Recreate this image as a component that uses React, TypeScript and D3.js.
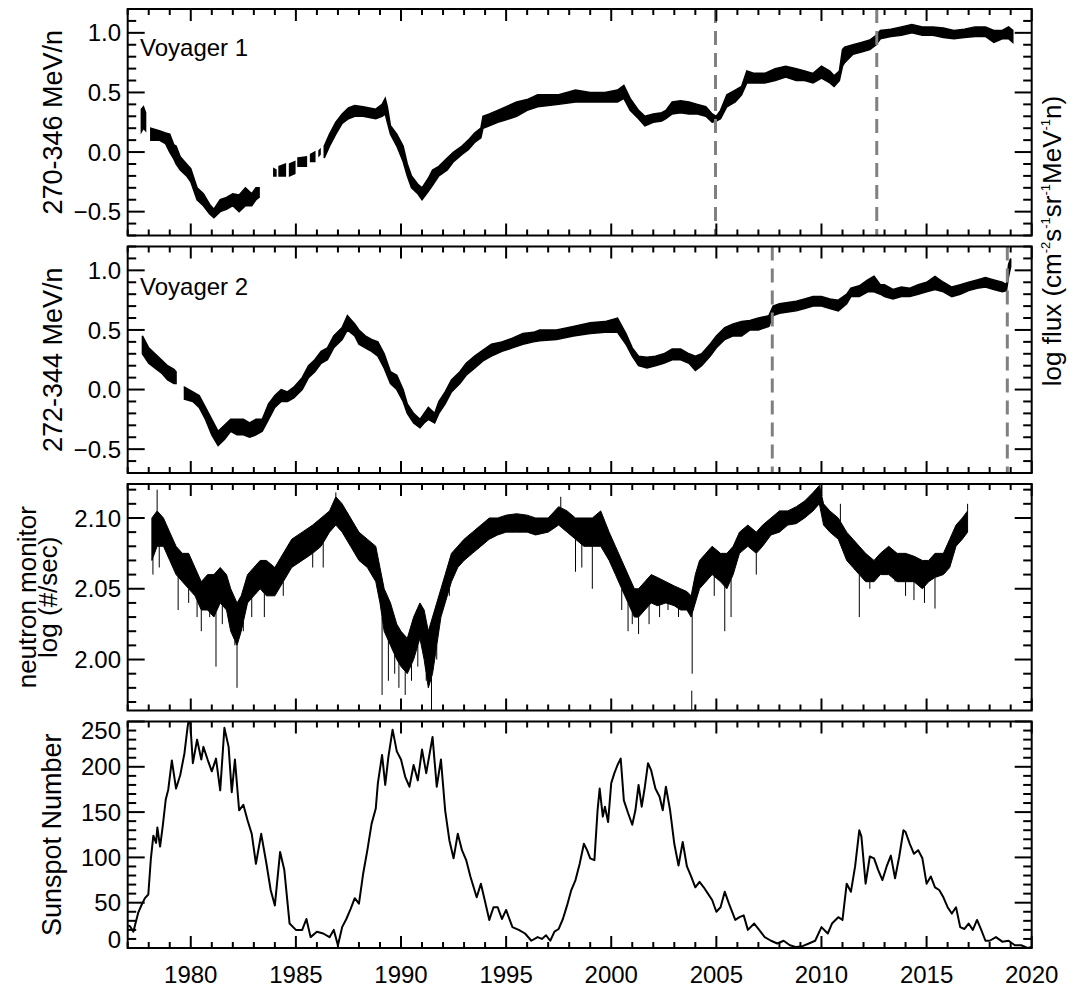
import * as d3 from "d3";

type Row = [number, number, number] | null;

// Voyager 1, 270-346 MeV/n: [year, low, high] of the plotted band (null = data gap)
const V1_BAND: Row[] = [
  [1977.65, 0.17, 0.36], [1977.75, 0.2, 0.38], [1977.85, 0.18, 0.33], null,
  [1978.1, 0.1, 0.2], [1978.5, 0.1, 0.18], [1978.8, 0.07, 0.16], [1979.0, 0.0, 0.15],
  [1979.2, -0.06, 0.06], [1979.3, -0.1, 0.05], [1979.5, -0.15, -0.04], [1979.8, -0.2, -0.1],
  [1980.0, -0.25, -0.14], [1980.3, -0.4, -0.3], [1980.6, -0.45, -0.35], [1980.9, -0.52, -0.44],
  [1981.1, -0.55, -0.48], [1981.4, -0.5, -0.4], [1981.7, -0.48, -0.38], [1982.0, -0.45, -0.35],
  [1982.3, -0.5, -0.36], [1982.6, -0.45, -0.3], [1982.9, -0.45, -0.35], [1983.1, -0.4, -0.3],
  [1983.25, -0.38, -0.3], null,
  [1983.95, -0.2, -0.14], [1984.05, -0.2, -0.15], null,
  [1984.2, -0.2, -0.12], [1984.5, -0.2, -0.1], null,
  [1984.7, -0.2, -0.1], [1984.95, -0.18, -0.08], null,
  [1985.1, -0.12, -0.05], [1985.5, -0.12, -0.04], null,
  [1985.7, -0.08, -0.02], [1985.9, -0.08, 0.0], null,
  [1986.1, -0.03, 0.01], [1986.15, -0.02, 0.02], null,
  [1986.35, -0.05, 0.05], [1986.6, 0.05, 0.15], [1986.9, 0.15, 0.25], [1987.2, 0.24, 0.32],
  [1987.5, 0.28, 0.37], [1987.8, 0.3, 0.39], [1988.2, 0.3, 0.38], [1988.5, 0.29, 0.37],
  [1988.8, 0.28, 0.36], [1989.1, 0.3, 0.4], [1989.25, 0.32, 0.45], [1989.35, 0.25, 0.38],
  [1989.5, 0.15, 0.22], [1989.8, 0.05, 0.15], [1990.1, -0.08, 0.05], [1990.3, -0.2, -0.1],
  [1990.5, -0.3, -0.2], [1990.8, -0.35, -0.27], [1991.0, -0.4, -0.3], [1991.3, -0.33, -0.22],
  [1991.5, -0.28, -0.15], [1991.8, -0.2, -0.12], [1992.2, -0.15, -0.05], [1992.5, -0.08, 0.0],
  [1992.9, -0.02, 0.05], [1993.2, 0.02, 0.1], [1993.5, 0.08, 0.16], [1993.8, 0.12, 0.2],
  [1993.9, 0.2, 0.3], [1994.2, 0.22, 0.32], [1994.6, 0.25, 0.35], [1995.0, 0.27, 0.38],
  [1995.5, 0.3, 0.42], [1996.0, 0.35, 0.44], [1996.5, 0.38, 0.48], [1997.5, 0.4, 0.48],
  [1998.3, 0.42, 0.52], [1999.0, 0.42, 0.5], [1999.7, 0.42, 0.5], [2000.3, 0.42, 0.52],
  [2000.6, 0.45, 0.56], [2000.9, 0.35, 0.45], [2001.3, 0.28, 0.35], [2001.6, 0.22, 0.3],
  [2002.0, 0.25, 0.32], [2002.4, 0.26, 0.33], [2002.6, 0.28, 0.35], [2002.9, 0.32, 0.42],
  [2003.3, 0.33, 0.43], [2003.7, 0.32, 0.42], [2004.1, 0.32, 0.4], [2004.5, 0.3, 0.38],
  [2004.8, 0.25, 0.32], [2005.0, 0.26, 0.3], [2005.2, 0.28, 0.35], [2005.5, 0.38, 0.48],
  [2005.9, 0.42, 0.52], [2006.2, 0.48, 0.55], [2006.45, 0.58, 0.68], [2006.8, 0.58, 0.66],
  [2007.3, 0.58, 0.66], [2007.8, 0.6, 0.7], [2008.3, 0.63, 0.72], [2008.8, 0.6, 0.7],
  [2009.2, 0.6, 0.68], [2009.6, 0.58, 0.66], [2010.0, 0.62, 0.72], [2010.4, 0.58, 0.68],
  [2010.6, 0.55, 0.64], [2010.85, 0.6, 0.68], [2011.0, 0.72, 0.86], [2011.1, 0.75, 0.88],
  [2011.5, 0.82, 0.9], [2011.9, 0.84, 0.92], [2012.3, 0.86, 0.94], [2012.6, 0.9, 0.98],
  [2012.8, 0.95, 1.02], [2013.3, 0.97, 1.03], [2013.8, 0.98, 1.05], [2014.3, 1.0, 1.07],
  [2014.8, 0.98, 1.05], [2015.3, 0.98, 1.05], [2015.8, 0.96, 1.04], [2016.3, 0.95, 1.02],
  [2016.8, 0.96, 1.03], [2017.3, 0.97, 1.05], [2017.8, 0.97, 1.05], [2018.2, 0.92, 1.02],
  [2018.6, 0.95, 1.02], [2018.9, 0.95, 1.05], [2019.1, 0.92, 1.02],
];

// Voyager 2, 272-344 MeV/n
const V2_BAND: Row[] = [
  [1977.7, 0.3, 0.45], [1978.0, 0.22, 0.35], [1978.3, 0.18, 0.3], [1978.6, 0.14, 0.25],
  [1978.9, 0.08, 0.2], [1979.2, 0.05, 0.17], [1979.3, 0.05, 0.15], null,
  [1979.7, -0.08, 0.02], [1980.1, -0.1, -0.02], [1980.4, -0.15, -0.05], [1980.7, -0.25, -0.15],
  [1981.0, -0.38, -0.25], [1981.3, -0.47, -0.35], [1981.6, -0.42, -0.3], [1981.9, -0.35, -0.25],
  [1982.2, -0.38, -0.25], [1982.5, -0.38, -0.25], [1982.8, -0.4, -0.28], [1983.1, -0.38, -0.25],
  [1983.4, -0.35, -0.25], [1983.7, -0.25, -0.12], [1984.0, -0.15, -0.05], [1984.3, -0.1, 0.0],
  [1984.6, -0.1, -0.02], [1984.9, -0.07, 0.02], [1985.3, 0.0, 0.1], [1985.6, 0.1, 0.2],
  [1985.9, 0.15, 0.25], [1986.2, 0.22, 0.32], [1986.5, 0.25, 0.35], [1986.8, 0.35, 0.45],
  [1987.2, 0.42, 0.52], [1987.45, 0.5, 0.62], [1987.8, 0.45, 0.55], [1988.0, 0.38, 0.5],
  [1988.3, 0.35, 0.45], [1988.6, 0.32, 0.42], [1988.9, 0.28, 0.4], [1989.2, 0.18, 0.3],
  [1989.5, 0.05, 0.15], [1989.8, 0.0, 0.12], [1990.1, -0.1, 0.0], [1990.3, -0.2, -0.12],
  [1990.6, -0.28, -0.2], [1990.9, -0.32, -0.25], [1991.1, -0.28, -0.2], [1991.3, -0.25, -0.15],
  [1991.6, -0.28, -0.2], [1991.8, -0.2, -0.1], [1992.1, -0.12, -0.02], [1992.4, -0.02, 0.08],
  [1992.8, 0.05, 0.15], [1993.1, 0.12, 0.22], [1993.5, 0.18, 0.28], [1993.9, 0.24, 0.33],
  [1994.3, 0.28, 0.38], [1994.8, 0.32, 0.4], [1995.3, 0.35, 0.43], [1995.8, 0.38, 0.47],
  [1996.3, 0.4, 0.48], [1996.6, 0.41, 0.5], [1997.4, 0.42, 0.5], [1998.2, 0.45, 0.53],
  [1999.0, 0.47, 0.56], [1999.7, 0.48, 0.57], [2000.3, 0.48, 0.6], [2000.7, 0.38, 0.47],
  [2001.0, 0.28, 0.35], [2001.3, 0.2, 0.28], [2001.7, 0.18, 0.27], [2002.1, 0.2, 0.28],
  [2002.5, 0.22, 0.3], [2002.9, 0.25, 0.34], [2003.3, 0.25, 0.34], [2003.7, 0.22, 0.3],
  [2004.0, 0.16, 0.28], [2004.3, 0.2, 0.3], [2004.7, 0.28, 0.38], [2005.0, 0.35, 0.45],
  [2005.4, 0.42, 0.52], [2005.8, 0.45, 0.55], [2006.2, 0.45, 0.57], [2006.6, 0.5, 0.58],
  [2007.0, 0.5, 0.6], [2007.5, 0.53, 0.62], [2007.7, 0.62, 0.7], [2008.0, 0.64, 0.72],
  [2008.4, 0.65, 0.73], [2008.8, 0.66, 0.74], [2009.2, 0.68, 0.76], [2009.6, 0.7, 0.78],
  [2010.0, 0.7, 0.78], [2010.4, 0.68, 0.76], [2010.8, 0.66, 0.75], [2011.2, 0.72, 0.8],
  [2011.4, 0.78, 0.85], [2011.8, 0.78, 0.87], [2012.2, 0.82, 0.92], [2012.5, 0.82, 0.95],
  [2012.8, 0.8, 0.88], [2013.0, 0.78, 0.88], [2013.4, 0.76, 0.84], [2013.8, 0.78, 0.86],
  [2014.2, 0.78, 0.85], [2014.6, 0.8, 0.88], [2015.0, 0.82, 0.9], [2015.4, 0.84, 0.95],
  [2015.8, 0.82, 0.9], [2016.2, 0.78, 0.86], [2016.6, 0.8, 0.88], [2017.0, 0.83, 0.9],
  [2017.4, 0.85, 0.92], [2017.8, 0.86, 0.94], [2018.2, 0.84, 0.92], [2018.6, 0.82, 0.9],
  [2018.8, 0.83, 0.88], [2018.9, 0.95, 1.05], [2019.0, 1.03, 1.1],
];

// neutron monitor log count rate: dense band
const NM_BAND: Row[] = [
  [1978.15, 2.07, 2.1], [1978.4, 2.08, 2.105], [1978.7, 2.08, 2.1], [1979.0, 2.07, 2.09],
  [1979.3, 2.06, 2.08], [1979.6, 2.055, 2.075], [1979.9, 2.05, 2.075], [1980.2, 2.045, 2.065],
  [1980.5, 2.035, 2.055], [1980.8, 2.035, 2.06], [1981.1, 2.03, 2.06], [1981.4, 2.04, 2.065],
  [1981.7, 2.035, 2.06], [1981.9, 2.02, 2.05], [1982.2, 2.01, 2.04], [1982.4, 2.02, 2.045],
  [1982.7, 2.04, 2.06], [1983.0, 2.045, 2.065], [1983.3, 2.05, 2.07], [1983.6, 2.045, 2.07],
  [1984.0, 2.045, 2.065], [1984.4, 2.055, 2.075], [1984.8, 2.065, 2.085], [1985.3, 2.07, 2.09],
  [1985.8, 2.075, 2.095], [1986.2, 2.08, 2.1], [1986.6, 2.09, 2.105], [1986.9, 2.095, 2.115],
  [1987.2, 2.09, 2.11], [1987.6, 2.08, 2.1], [1988.0, 2.07, 2.09], [1988.4, 2.065, 2.085],
  [1988.8, 2.055, 2.08], [1989.0, 2.04, 2.065], [1989.2, 2.02, 2.05], [1989.5, 2.01, 2.04],
  [1989.8, 2.0, 2.025], [1990.0, 1.995, 2.02], [1990.3, 1.99, 2.015], [1990.6, 2.0, 2.03],
  [1990.9, 2.015, 2.04], [1991.1, 2.0, 2.035], [1991.3, 1.98, 2.02], [1991.5, 1.99, 2.03],
  [1991.7, 2.01, 2.04], [1991.9, 2.03, 2.05], [1992.1, 2.04, 2.06], [1992.4, 2.055, 2.075],
  [1992.7, 2.065, 2.08], [1993.0, 2.07, 2.085], [1993.4, 2.075, 2.09], [1993.8, 2.08, 2.095],
  [1994.2, 2.085, 2.1], [1994.6, 2.088, 2.1], [1995.0, 2.09, 2.102], [1995.5, 2.09, 2.103],
  [1996.0, 2.09, 2.102], [1996.4, 2.088, 2.1], [1997.0, 2.09, 2.1], [1997.5, 2.095, 2.108],
  [1997.9, 2.09, 2.105], [1998.3, 2.085, 2.1], [1998.7, 2.08, 2.1], [1999.1, 2.08, 2.1],
  [1999.5, 2.08, 2.105], [1999.9, 2.07, 2.09], [2000.2, 2.06, 2.08], [2000.5, 2.05, 2.07],
  [2000.8, 2.04, 2.06], [2001.1, 2.03, 2.05], [2001.3, 2.03, 2.05], [2001.6, 2.035, 2.055],
  [2001.9, 2.04, 2.06], [2002.2, 2.038, 2.058], [2002.6, 2.04, 2.055], [2003.0, 2.038, 2.052],
  [2003.3, 2.035, 2.05], [2003.6, 2.035, 2.048], [2003.8, 2.03, 2.045], [2004.0, 2.04, 2.06],
  [2004.2, 2.05, 2.07], [2004.5, 2.055, 2.075], [2004.8, 2.06, 2.08], [2005.2, 2.055, 2.075],
  [2005.5, 2.05, 2.075], [2005.8, 2.06, 2.08], [2006.1, 2.075, 2.09], [2006.5, 2.08, 2.095],
  [2006.9, 2.075, 2.09], [2007.2, 2.08, 2.095], [2007.6, 2.088, 2.1], [2008.0, 2.09, 2.105],
  [2008.4, 2.095, 2.105], [2008.8, 2.096, 2.108], [2009.2, 2.1, 2.112], [2009.6, 2.105, 2.118],
  [2009.9, 2.11, 2.123], [2010.1, 2.095, 2.11], [2010.4, 2.09, 2.105], [2010.8, 2.085, 2.1],
  [2011.2, 2.07, 2.09], [2011.5, 2.065, 2.085], [2011.8, 2.06, 2.08], [2012.1, 2.055, 2.075],
  [2012.5, 2.055, 2.07], [2012.8, 2.06, 2.075], [2013.2, 2.06, 2.08], [2013.6, 2.055, 2.075],
  [2014.0, 2.055, 2.075], [2014.4, 2.055, 2.073], [2014.8, 2.05, 2.07], [2015.1, 2.055, 2.07],
  [2015.4, 2.058, 2.075], [2015.8, 2.06, 2.075], [2016.1, 2.065, 2.085], [2016.4, 2.08, 2.095],
  [2016.7, 2.085, 2.1], [2016.95, 2.09, 2.105],
];

// Forbush decreases and other single-day dips: [year, lowest value]
const NM_DIPS: [number, number][] = [
  [1978.2, 2.06], [1978.5, 2.065], [1979.4, 2.035], [1979.9, 2.04], [1980.3, 2.03], [1980.5, 2.02],
  [1980.9, 2.03], [1981.2, 1.995], [1981.5, 2.025], [1981.8, 2.03], [1982.1, 2.01], [1982.2, 1.98],
  [1982.5, 2.02], [1982.9, 2.03], [1983.5, 2.03], [1984.4, 2.045], [1985.8, 2.065], [1986.3, 2.065],
  [1989.1, 1.975], [1989.4, 1.985], [1989.7, 1.99], [1989.9, 1.98], [1990.2, 1.975], [1990.5, 1.985],
  [1990.8, 1.995], [1991.2, 1.985], [1991.45, 1.96], [1991.7, 2.0], [1992.3, 2.045], [1998.3, 2.062],
  [1998.6, 2.065], [1999.1, 2.05], [2000.5, 2.035], [2000.8, 2.02], [2001.0, 2.025], [2001.3, 2.018],
  [2001.8, 2.025], [2002.3, 2.03], [2002.7, 2.035], [2003.2, 2.03], [2003.85, 1.99], [2004.5, 2.06],
  [2004.9, 2.045], [2005.4, 2.02], [2005.7, 2.03], [2006.9, 2.06], [2011.6, 2.065], [2011.8, 2.03],
  [2012.3, 2.05], [2013.5, 2.055], [2014.0, 2.045], [2014.4, 2.042], [2014.9, 2.04], [2015.4, 2.036],
];

// short upward excursions: [year, highest value]
const NM_PEAKS: [number, number][] = [
  [1978.4, 2.12], [1986.9, 2.118], [1997.6, 2.115], [2010.9, 2.11], [2016.95, 2.11],
];

// isolated low segment (Oct 2003): [year, low, high]
const NM_ISOLATED: [number, number, number][] = [[2003.83, 1.96, 1.978]];

// monthly-smoothed sunspot number: [year, value]
const SUNSPOT: [number, number][] = [
  [1977.03, 25], [1977.11, 24], [1977.27, 18], [1977.5, 39], [1977.67, 48], [1977.82, 55],
  [1977.98, 59], [1978.1, 98], [1978.22, 124], [1978.35, 116], [1978.41, 133], [1978.54, 112],
  [1978.67, 135], [1978.81, 164], [1978.93, 175], [1979.1, 207], [1979.3, 176], [1979.5, 191],
  [1979.7, 215], [1979.85, 244], [1979.95, 258], [1980.1, 204], [1980.3, 230], [1980.5, 208],
  [1980.6, 222], [1980.8, 208], [1981.0, 195], [1981.2, 209], [1981.4, 174], [1981.6, 243],
  [1981.8, 222], [1981.95, 172], [1982.1, 208], [1982.3, 152], [1982.5, 158], [1982.7, 141],
  [1982.9, 126], [1983.1, 93], [1983.35, 126], [1983.6, 93], [1983.8, 64], [1984.0, 47],
  [1984.25, 106], [1984.45, 86], [1984.7, 27], [1985.0, 20], [1985.3, 20], [1985.5, 32],
  [1985.7, 12], [1986.0, 18], [1986.3, 16], [1986.6, 12], [1986.8, 20], [1987.0, 3],
  [1987.2, 23], [1987.4, 32], [1987.6, 43], [1987.8, 55], [1988.0, 49], [1988.2, 82],
  [1988.4, 108], [1988.6, 137], [1988.8, 154], [1988.9, 182], [1989.1, 213], [1989.25, 180],
  [1989.4, 211], [1989.6, 241], [1989.8, 217], [1990.0, 208], [1990.2, 189], [1990.4, 178],
  [1990.6, 202], [1990.8, 185], [1991.0, 219], [1991.2, 193], [1991.5, 233], [1991.7, 178],
  [1991.9, 208], [1992.1, 152], [1992.3, 119], [1992.5, 99], [1992.7, 126], [1992.9, 108],
  [1993.1, 97], [1993.3, 79], [1993.6, 56], [1993.8, 71], [1994.0, 51], [1994.2, 31],
  [1994.4, 45], [1994.6, 45], [1994.8, 32], [1995.0, 42], [1995.3, 23], [1995.6, 20],
  [1995.9, 16], [1996.2, 8], [1996.5, 12], [1996.7, 10], [1996.9, 14], [1997.1, 8],
  [1997.3, 18], [1997.5, 21], [1997.7, 32], [1997.9, 47], [1998.1, 64], [1998.3, 75],
  [1998.5, 93], [1998.7, 115], [1998.85, 108], [1999.0, 99], [1999.2, 97], [1999.35, 152],
  [1999.45, 176], [1999.6, 145], [1999.7, 156], [1999.85, 139], [2000.0, 182], [2000.15, 193],
  [2000.3, 202], [2000.45, 209], [2000.6, 163], [2000.8, 149], [2001.0, 136], [2001.15, 152],
  [2001.3, 180], [2001.45, 156], [2001.6, 178], [2001.75, 204], [2001.9, 196], [2002.1, 176],
  [2002.3, 167], [2002.45, 152], [2002.6, 178], [2002.8, 152], [2003.0, 115], [2003.2, 91],
  [2003.4, 117], [2003.6, 90], [2003.8, 79], [2004.0, 67], [2004.2, 73], [2004.4, 67],
  [2004.6, 60], [2004.8, 53], [2005.0, 40], [2005.2, 45], [2005.4, 62], [2005.6, 49],
  [2005.9, 31], [2006.1, 34], [2006.3, 36], [2006.5, 20], [2006.8, 27], [2007.0, 21],
  [2007.3, 12], [2007.6, 8], [2007.9, 5], [2008.2, 8], [2008.5, 3], [2008.8, 1],
  [2009.1, 2], [2009.4, 5], [2009.7, 8], [2010.0, 23], [2010.3, 16], [2010.5, 27],
  [2010.8, 34], [2011.0, 31], [2011.2, 71], [2011.4, 62], [2011.6, 90], [2011.8, 130],
  [2011.9, 123], [2012.1, 71], [2012.3, 101], [2012.5, 99], [2012.7, 86], [2012.9, 75],
  [2013.1, 90], [2013.3, 102], [2013.5, 77], [2013.7, 101], [2013.9, 130], [2014.0, 128],
  [2014.2, 115], [2014.4, 104], [2014.6, 108], [2014.8, 99], [2015.0, 71], [2015.2, 79],
  [2015.4, 67], [2015.6, 64], [2015.8, 56], [2016.0, 45], [2016.2, 38], [2016.4, 45],
  [2016.6, 23], [2016.8, 21], [2017.0, 27], [2017.2, 20], [2017.4, 31], [2017.6, 20],
  [2017.8, 8], [2018.0, 8], [2018.3, 12], [2018.6, 7], [2018.9, 8], [2019.2, 3],
  [2019.5, 3], [2019.8, 0], [2020.0, 1],
];

// termination shock / heliopause crossings
const V1_CROSSINGS = [2004.96, 2012.63];
const V2_CROSSINGS = [2007.66, 2018.84];

const X_MAJOR = d3.range(1980, 2021, 5);
const X_MINOR = d3.range(1977, 2021, 1);

const FONT = "'Liberation Sans', Arial, Helvetica, sans-serif";
const W = 1081;
const H = 991;
const LEFT = 127.7;
const RIGHT = 1031.7;
const PANEL_H = 226.5;
const PANEL_TOPS = [9, 246.5, 484, 721.5];

const x = d3.scaleLinear().domain([1977, 2020]).range([LEFT, RIGHT]);

interface PanelDef {
  domain: [number, number];
  major: number[];
  minor: number[];
  fmt: (v: number) => string;
}

const PANELS: PanelDef[] = [
  { domain: [-0.7, 1.2], major: [-0.5, 0, 0.5, 1.0], minor: d3.range(-7, 13).map((v) => v / 10), fmt: d3.format(".1f") },
  { domain: [-0.7, 1.2], major: [-0.5, 0, 0.5, 1.0], minor: d3.range(-7, 13).map((v) => v / 10), fmt: d3.format(".1f") },
  { domain: [1.964, 2.124], major: [2.0, 2.05, 2.1], minor: d3.range(197, 213).map((v) => v / 100), fmt: d3.format(".2f") },
  { domain: [0, 250], major: [0, 50, 100, 150, 200, 250], minor: d3.range(0, 251, 10), fmt: d3.format("d") },
];

function bandArea(y: d3.ScaleLinear<number, number>) {
  return d3
    .area<Row>()
    .defined((d) => d !== null)
    .x((d) => x(d![0]))
    .y0((d) => y(d![1]))
    .y1((d) => y(d![2]));
}

function bandLowAt(band: Row[], year: number) {
  const rows = band.filter((d): d is [number, number, number] => d !== null);
  const i = d3.bisector((d: [number, number, number]) => d[0]).left(rows, year);
  const a = rows[Math.max(0, i - 1)];
  const b = rows[Math.min(rows.length - 1, i)];
  if (a === b) return [a[1], a[2]];
  const t = (year - a[0]) / (b[0] - a[0]);
  return [a[1] + t * (b[1] - a[1]), a[2] + t * (b[2] - a[2])];
}

function Frame({ top, def, showX }: { top: number; def: PanelDef; showX: boolean }) {
  const bottom = top + PANEL_H;
  const y = d3.scaleLinear().domain(def.domain).range([bottom, top]);
  const els: JSX.Element[] = [];
  X_MINOR.forEach((v) => {
    const len = v % 5 === 0 ? 12 : 6;
    const px = x(v);
    els.push(<line key={`xb${v}`} x1={px} x2={px} y1={bottom} y2={bottom - len} />);
    els.push(<line key={`xt${v}`} x1={px} x2={px} y1={top} y2={top + len} />);
  });
  def.minor.forEach((v) => {
    const major = def.major.some((m) => Math.abs(m - v) < 1e-9);
    const len = major ? 17 : 8.5;
    const py = y(v);
    if (py < top - 0.5 || py > bottom + 0.5) return;
    els.push(<line key={`yl${v}`} x1={LEFT} x2={LEFT + len} y1={py} y2={py} />);
    els.push(<line key={`yr${v}`} x1={RIGHT} x2={RIGHT - len} y1={py} y2={py} />);
  });
  return (
    <g>
      <g stroke="#000" strokeWidth={2}>{els}</g>
      <rect x={LEFT} y={top} width={RIGHT - LEFT} height={PANEL_H} fill="none" stroke="#000" strokeWidth={2} />
      <g fontFamily={FONT} fontSize={24} fill="#000" textAnchor="end">
        {def.major.map((v) => {
          const cy = Math.min(bottom - 9, Math.max(top + 9, y(v)));
          return (
            <text key={`yt${v}`} x={121} y={cy} dy="0.36em">
              {def.fmt(v)}
            </text>
          );
        })}
      </g>
      {showX && (
        <g fontFamily={FONT} fontSize={24} fill="#000" textAnchor="middle">
          {X_MAJOR.map((v) => (
            <text key={`xl${v}`} x={x(v)} y={983}>
              {v}
            </text>
          ))}
        </g>
      )}
    </g>
  );
}

export default function App() {
  const ys = PANELS.map((p, i) =>
    d3.scaleLinear().domain(p.domain).range([PANEL_TOPS[i] + PANEL_H, PANEL_TOPS[i]])
  );
  const [y1, y2, y3, y4] = ys;
  const sunLine = d3
    .line<[number, number]>()
    .x((d) => x(d[0]))
    .y((d) => y4(d[1]));

  const dashed = (years: number[], top: number, k: string) =>
    years.map((yr) => (
      <line
        key={`${k}${yr}`}
        x1={x(yr)}
        x2={x(yr)}
        y1={top}
        y2={top + PANEL_H}
        stroke="#808080"
        strokeWidth={3}
        strokeDasharray="14,8"
      />
    ));

  return (
    <svg width={W} height={H} style={{ position: "absolute", left: 0, top: 0, background: "#fff" }}>
      <defs>
        {PANEL_TOPS.map((t, i) => (
          <clipPath key={i} id={`clip${i}`}>
            <rect x={LEFT} y={t} width={RIGHT - LEFT} height={PANEL_H} />
          </clipPath>
        ))}
      </defs>

      {/* Voyager 1 */}
      <g clipPath="url(#clip0)">
        <path d={bandArea(y1)(V1_BAND) ?? ""} fill="#000" stroke="#000" strokeWidth={1.5} />
        {dashed(V1_CROSSINGS, PANEL_TOPS[0], "v1")}
      </g>
      {/* Voyager 2 */}
      <g clipPath="url(#clip1)">
        <path d={bandArea(y2)(V2_BAND) ?? ""} fill="#000" stroke="#000" strokeWidth={1.5} />
        {dashed(V2_CROSSINGS, PANEL_TOPS[1], "v2")}
      </g>
      {/* neutron monitor */}
      <g clipPath="url(#clip2)">
        <path d={bandArea(y3)(NM_BAND) ?? ""} fill="#000" stroke="#000" strokeWidth={1} />
        <g stroke="#000" strokeWidth={1}>
          {NM_DIPS.map(([yr, v]) => (
            <line key={`d${yr}`} x1={x(yr)} x2={x(yr)} y1={y3(v)} y2={y3(bandLowAt(NM_BAND, yr)[0])} />
          ))}
          {NM_PEAKS.map(([yr, v]) => (
            <line key={`p${yr}`} x1={x(yr)} x2={x(yr)} y1={y3(v)} y2={y3(bandLowAt(NM_BAND, yr)[1])} />
          ))}
          {NM_ISOLATED.map(([yr, lo, hi]) => (
            <line key={`i${yr}`} x1={x(yr)} x2={x(yr)} y1={y3(lo)} y2={y3(hi)} />
          ))}
        </g>
      </g>
      {/* sunspot number */}
      <g clipPath="url(#clip3)">
        <path d={sunLine(SUNSPOT) ?? ""} fill="none" stroke="#000" strokeWidth={2} strokeLinejoin="round" />
      </g>

      {PANELS.map((p, i) => (
        <Frame key={i} top={PANEL_TOPS[i]} def={p} showX={i === 3} />
      ))}

      <g fontFamily={FONT} fill="#000">
        <text x={140} y={PANEL_TOPS[0] + 47} fontSize={24}>Voyager 1</text>
        <text x={140} y={PANEL_TOPS[1] + 48} fontSize={24}>Voyager 2</text>

        <text transform={`translate(62,${PANEL_TOPS[0] + PANEL_H / 2}) rotate(-90)`} textAnchor="middle" fontSize={27}>
          270-346 MeV/n
        </text>
        <text transform={`translate(62,${PANEL_TOPS[1] + PANEL_H / 2}) rotate(-90)`} textAnchor="middle" fontSize={27}>
          272-344 MeV/n
        </text>
        <text transform={`translate(36,${PANEL_TOPS[2] + PANEL_H / 2}) rotate(-90)`} textAnchor="middle" fontSize={26}>
          neutron monitor
        </text>
        <text transform={`translate(57,${PANEL_TOPS[2] + PANEL_H / 2}) rotate(-90)`} textAnchor="middle" fontSize={26}>
          log (#/sec)
        </text>
        <text transform={`translate(61,${PANEL_TOPS[3] + PANEL_H / 2}) rotate(-90)`} textAnchor="middle" fontSize={27}>
          Sunspot Number
        </text>

        <text
          transform={`translate(1061,${(PANEL_TOPS[0] + PANEL_TOPS[1] + PANEL_H) / 2}) rotate(-90)`}
          textAnchor="middle"
          fontSize={26}
        >
          log flux (cm
          <tspan dy={-11} fontSize={13}>-2</tspan>
          <tspan dy={11}>s</tspan>
          <tspan dy={-11} fontSize={13}>-1</tspan>
          <tspan dy={11}>sr</tspan>
          <tspan dy={-11} fontSize={13}>-1</tspan>
          <tspan dy={11}>MeV</tspan>
          <tspan dy={-11} fontSize={13}>-1</tspan>
          <tspan dy={11}>n)</tspan>
        </text>
      </g>
    </svg>
  );
}
